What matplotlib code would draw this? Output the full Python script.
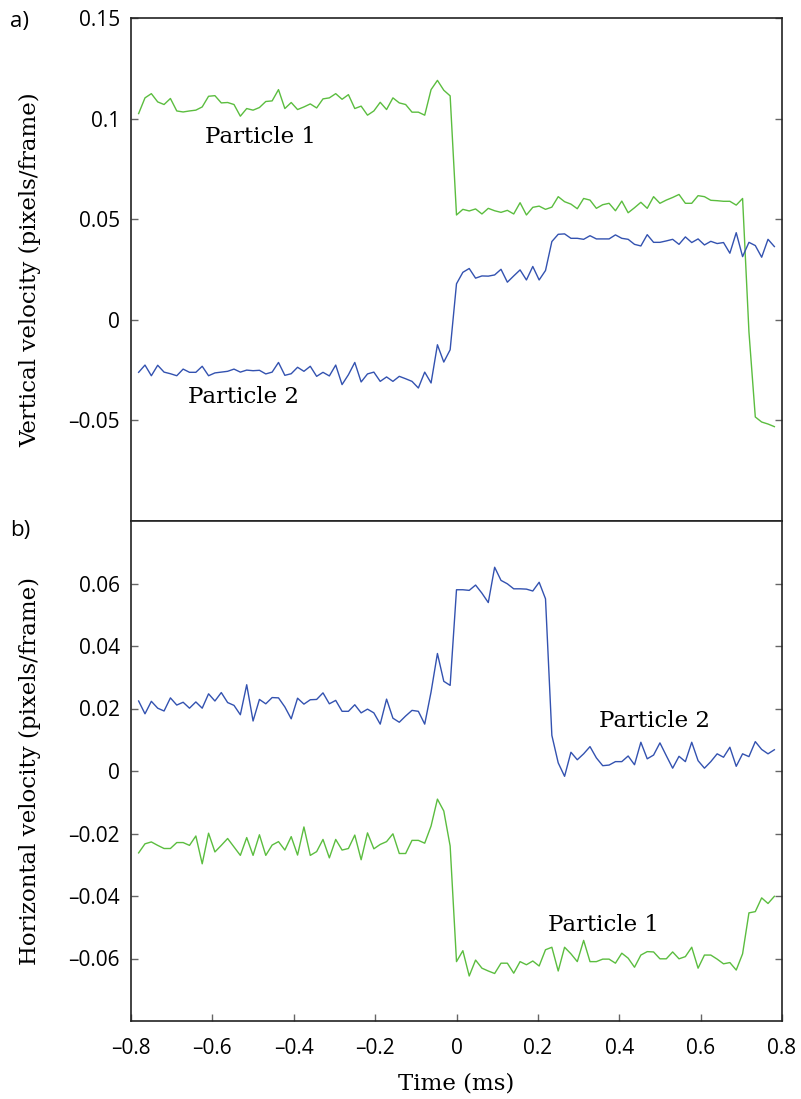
import numpy as np
import matplotlib
matplotlib.use("Agg")
import matplotlib.pyplot as plt
from matplotlib.ticker import FuncFormatter, FixedLocator

# frame index relative to the event, 64 frames per ms
frames = np.arange(-50, 51)
time_ms = frames / 64.0

vert_p1 = [
    0.1025, 0.1103, 0.1124, 0.1083, 0.1070, 0.1100, 0.1038, 0.1033, 0.1038, 0.1042,
    0.1058, 0.1111, 0.1114, 0.1078, 0.1080, 0.1070, 0.1012, 0.1050, 0.1042, 0.1055,
    0.1085, 0.1088, 0.1144, 0.1050, 0.1080, 0.1045, 0.1058, 0.1073, 0.1053, 0.1098,
    0.1103, 0.1124, 0.1096, 0.1119, 0.1050, 0.1062, 0.1017, 0.1038, 0.1081, 0.1045,
    0.1103, 0.1078, 0.1070, 0.1032, 0.1032, 0.1017, 0.1144, 0.1190, 0.1141, 0.1113,
    0.0521, 0.0549, 0.0541, 0.0551, 0.0526, 0.0554, 0.0542, 0.0534, 0.0544, 0.0526,
    0.0582, 0.0521, 0.0559, 0.0565, 0.0549, 0.0560, 0.0612, 0.0587, 0.0575, 0.0552,
    0.0603, 0.0595, 0.0554, 0.0572, 0.0579, 0.0542, 0.0590, 0.0532, 0.0557, 0.0584,
    0.0554, 0.0612, 0.0579, 0.0595, 0.0608, 0.0623, 0.0579, 0.0579, 0.0617, 0.0612,
    0.0594, 0.0592, 0.0589, 0.0589, 0.0570, 0.0603, -0.0060, -0.0483, -0.0508, -0.0518,
    -0.0531,
]

vert_p2 = [
    -0.0261, -0.0225, -0.0278, -0.0226, -0.0260, -0.0268, -0.0278, -0.0245, -0.0261, -0.0261,
    -0.0231, -0.0278, -0.0264, -0.0260, -0.0256, -0.0245, -0.0260, -0.0250, -0.0253, -0.0251,
    -0.0269, -0.0260, -0.0212, -0.0276, -0.0268, -0.0236, -0.0256, -0.0231, -0.0281, -0.0261,
    -0.0279, -0.0225, -0.0322, -0.0273, -0.0212, -0.0309, -0.0269, -0.0260, -0.0306, -0.0284,
    -0.0306, -0.0281, -0.0293, -0.0306, -0.0339, -0.0260, -0.0314, -0.0124, -0.0210, -0.0149,
    0.0179, 0.0236, 0.0255, 0.0207, 0.0218, 0.0217, 0.0223, 0.0251, 0.0187, 0.0218,
    0.0248, 0.0198, 0.0265, 0.0198, 0.0245, 0.0389, 0.0425, 0.0427, 0.0405, 0.0405,
    0.0400, 0.0418, 0.0402, 0.0402, 0.0402, 0.0422, 0.0405, 0.0400, 0.0375, 0.0367,
    0.0423, 0.0385, 0.0385, 0.0392, 0.0400, 0.0375, 0.0412, 0.0384, 0.0402, 0.0372,
    0.0390, 0.0379, 0.0384, 0.0331, 0.0433, 0.0314, 0.0385, 0.0369, 0.0311, 0.0400,
    0.0364,
]

horiz_p2 = [
    0.0224, 0.0183, 0.0223, 0.0201, 0.0192, 0.0234, 0.0211, 0.0220, 0.0201, 0.0221,
    0.0201, 0.0247, 0.0224, 0.0251, 0.0219, 0.0210, 0.0180, 0.0276, 0.0160, 0.0229,
    0.0215, 0.0235, 0.0234, 0.0205, 0.0167, 0.0233, 0.0214, 0.0228, 0.0229, 0.0250,
    0.0215, 0.0226, 0.0191, 0.0191, 0.0212, 0.0186, 0.0198, 0.0186, 0.0150, 0.0230,
    0.0169, 0.0156, 0.0176, 0.0194, 0.0191, 0.0150, 0.0253, 0.0376, 0.0287, 0.0274,
    0.0580, 0.0580, 0.0578, 0.0595, 0.0569, 0.0539, 0.0652, 0.0610, 0.0599, 0.0583,
    0.0583, 0.0582, 0.0576, 0.0604, 0.0551, 0.0114, 0.0026, -0.0017, 0.0060, 0.0036,
    0.0055, 0.0078, 0.0042, 0.0017, 0.0019, 0.0030, 0.0030, 0.0048, 0.0020, 0.0092,
    0.0039, 0.0051, 0.0090, 0.0049, 0.0009, 0.0047, 0.0030, 0.0092, 0.0033, 0.0009,
    0.0030, 0.0055, 0.0044, 0.0076, 0.0015, 0.0055, 0.0046, 0.0094, 0.0069, 0.0055,
    0.0068,
]

horiz_p1 = [
    -0.0262, -0.0233, -0.0227, -0.0238, -0.0248, -0.0248, -0.0229, -0.0229, -0.0238, -0.0208,
    -0.0297, -0.0199, -0.0259, -0.0238, -0.0216, -0.0243, -0.0270, -0.0213, -0.0270, -0.0204,
    -0.0270, -0.0237, -0.0226, -0.0253, -0.0210, -0.0269, -0.0179, -0.0270, -0.0258, -0.0219,
    -0.0278, -0.0219, -0.0253, -0.0248, -0.0205, -0.0284, -0.0198, -0.0249, -0.0235, -0.0226,
    -0.0201, -0.0264, -0.0264, -0.0222, -0.0222, -0.0231, -0.0176, -0.0090, -0.0128, -0.0240,
    -0.0610, -0.0575, -0.0656, -0.0605, -0.0631, -0.0640, -0.0648, -0.0615, -0.0615, -0.0647,
    -0.0610, -0.0620, -0.0608, -0.0624, -0.0572, -0.0564, -0.0640, -0.0564, -0.0585, -0.0610,
    -0.0542, -0.0610, -0.0610, -0.0602, -0.0602, -0.0615, -0.0583, -0.0599, -0.0628, -0.0589,
    -0.0578, -0.0579, -0.0601, -0.0601, -0.0579, -0.0601, -0.0594, -0.0564, -0.0631, -0.0589,
    -0.0589, -0.0602, -0.0617, -0.0613, -0.0637, -0.0585, -0.0454, -0.0450, -0.0406, -0.0424,
    -0.0401,
]

x_ticks = [-0.8, -0.6, -0.4, -0.2, 0, 0.2, 0.4, 0.6, 0.8]
top_yticks = [-0.05, 0, 0.05, 0.1, 0.15]
bot_yticks = [-0.06, -0.04, -0.02, 0, 0.02, 0.04, 0.06]

GREEN = "#5bbd3f"
BLUE = "#3352b0"
SANS = ["Open Sans", "DejaVu Sans"]
SERIF = "DejaVu Serif"
TICK_FS = 15
LAB_FS = 16.5


def fmt(v, pos):
    if abs(v) < 1e-12:
        return "0"
    s = ("%g" % abs(v))
    return ("\u2013" + s) if v < 0 else s


fig = plt.figure(figsize=(8.01, 10.99), dpi=100)
left, right = 131 / 801, 782 / 801
top, mid, bottom = 1 - 18 / 1099, 1 - 521 / 1099, 1 - 1021 / 1099
ax1 = fig.add_axes([left, mid, right - left, top - mid])
ax2 = fig.add_axes([left, bottom, right - left, mid - bottom], sharex=ax1)

ax1.plot(time_ms, vert_p1, color=GREEN, lw=1.0)
ax1.plot(time_ms, vert_p2, color=BLUE, lw=1.0)
ax2.plot(time_ms, horiz_p2, color=BLUE, lw=1.0)
ax2.plot(time_ms, horiz_p1, color=GREEN, lw=1.0)

ax1.set_xlim(-0.8, 0.8)
ax1.set_ylim(-0.1, 0.15)
ax2.set_ylim(-0.08, 0.08)

for ax, yt in ((ax1, top_yticks), (ax2, bot_yticks)):
    ax.yaxis.set_major_locator(FixedLocator(yt))
    ax.yaxis.set_major_formatter(FuncFormatter(fmt))
    ax.tick_params(axis="y", direction="in", left=True, right=True, length=5,
                   width=1.0, color="#666666", pad=8, labelsize=TICK_FS)
    for sp in ax.spines.values():
        sp.set_linewidth(1.2)
        sp.set_color("#222222")
    for lab in ax.get_yticklabels():
        lab.set_family(SANS)

ax2.xaxis.set_major_locator(FixedLocator(x_ticks))
ax2.xaxis.set_major_formatter(FuncFormatter(fmt))
ax2.tick_params(axis="x", direction="in", bottom=True, top=False, length=5,
                width=1.0, color="#666666", pad=12, labelsize=TICK_FS)
for lab in ax2.get_xticklabels():
    lab.set_family(SANS)
ax1.tick_params(axis="x", bottom=False, top=False, labelbottom=False)

ax1.set_ylabel("Vertical velocity (pixels/frame)", family=SERIF, fontsize=LAB_FS)
ax2.set_ylabel("Horizontal velocity (pixels/frame)", family=SERIF, fontsize=LAB_FS)
ax1.yaxis.set_label_coords(-0.138, 0.5)
ax2.yaxis.set_label_coords(-0.138, 0.5)
ax2.set_xlabel("Time (ms)", family=SERIF, fontsize=LAB_FS, labelpad=10)

ax1.text(-0.618, 0.0878, "Particle 1", family=SERIF, fontsize=LAB_FS, ha="left", va="baseline")
ax1.text(-0.661, -0.0413, "Particle 2", family=SERIF, fontsize=LAB_FS, ha="left", va="baseline")
ax2.text(0.351, 0.01405, "Particle 2", family=SERIF, fontsize=LAB_FS, ha="left", va="baseline")
ax2.text(0.2256, -0.0513, "Particle 1", family=SERIF, fontsize=LAB_FS, ha="left", va="baseline")

fig.text(10 / 801, 1 - 27 / 1099, "a)", family=SANS, fontsize=16, ha="left", va="baseline")
fig.text(10 / 801, 1 - 536 / 1099, "b)", family=SANS, fontsize=16, ha="left", va="baseline")

fig.savefig("out.png", dpi=100)
